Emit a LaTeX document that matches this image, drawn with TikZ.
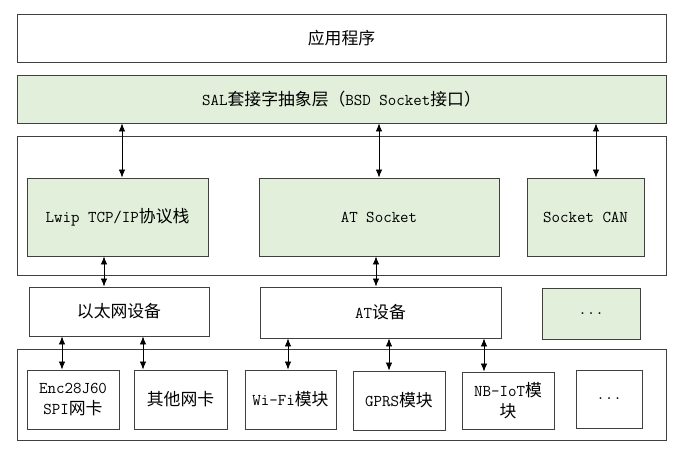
\documentclass[tikz,border=0pt]{standalone}
\usepackage{fontspec}
\newfontfamily\zhfont{Noto Sans CJK SC}[Scale=1.02]
\newcommand{\zh}[1]{{\zhfont #1}}
\usetikzlibrary{arrows.meta,positioning}
\definecolor{salgreen}{HTML}{E2EFDA}
\definecolor{boxline}{HTML}{404040}

\begin{document}
\begin{tikzpicture}[
    x=1pt, y=-1pt,
    font=\ttfamily\fontsize{16.5}{21}\selectfont,
    box/.style={draw=boxline, line width=0.9pt, inner sep=0, align=center},
    layer/.style={box, minimum width=649pt},
    greenbox/.style={box, fill=salgreen},
    dbl/.style={{Latex[length=8pt,width=6.5pt]}-{Latex[length=8pt,width=6.5pt]}, line width=0.8pt}]
\useasboundingbox (0,0) rectangle (680,451);

% top layers
\node[layer, minimum height=48pt] (app) at (341.5,38) {\zh{应用程序}};
\node[layer, greenbox, minimum height=48pt] (sal) at (341.5,99) {SAL\zh{套接字抽象层（}BSD Socket\zh{接口）}};

% protocol layer
\node[layer, minimum height=139pt] (mid) at (341.5,205.5) {};
\node[greenbox, minimum width=181pt, minimum height=78pt] (lwip) at (117.5,217) {Lwip TCP/IP\zh{协议栈}};
\node[greenbox, minimum width=240pt, minimum height=78pt] (atsock) at (379,217) {AT Socket};
\node[greenbox, minimum width=117pt, minimum height=78pt] (sockcan) at (585.5,217) {Socket CAN};

% device layer
\node[box, minimum width=180pt, minimum height=49pt] (eth) at (119,311.5) {\zh{以太网设备}};
\node[box, minimum width=241pt, minimum height=51pt] (atdev) at (380.5,312.5) {AT\zh{设备}};
\node[greenbox, minimum width=98pt, minimum height=51pt] (more) at (591,313.5) {...};

% hardware layer
\node[layer, minimum height=91pt] (hw) at (341.5,394.5) {};
\node[box, minimum width=92pt, minimum height=59pt] (enc) at (73,399.5) {Enc28J60\\SPI\zh{网卡}};
\node[box, minimum width=93pt, minimum height=59pt] (nic) at (180.5,399.5) {\zh{其他网卡}};
\node[box, minimum width=91pt, minimum height=59pt] (wifi) at (290.5,399.5) {Wi-Fi\zh{模块}};
\node[box, minimum width=92pt, minimum height=59pt] (gprs) at (399,400.5) {GPRS\zh{模块}};
\node[box, minimum width=92pt, minimum height=57pt] (nbiot) at (508,400.5) {NB-IoT\zh{模}\\\zh{块}};
\node[box, minimum width=66pt, minimum height=58pt] (dots) at (609,399) {...};

% connectors
\draw[dbl] ([xshift=4.5pt]lwip.north |- sal.south) -- ([xshift=4.5pt]lwip.north);
\draw[dbl] (atsock.north |- sal.south) -- (atsock.north);
\draw[dbl] ([xshift=10.5pt]sockcan.north |- sal.south) -- ([xshift=10.5pt]sockcan.north);
\draw[dbl] ([xshift=-13.5pt]lwip.south) -- ([xshift=-13.5pt]lwip.south |- eth.north);
\draw[dbl] ([xshift=-3pt]atsock.south) -- ([xshift=-3pt]atsock.south |- atdev.north);
\draw[dbl] ([xshift=-11pt]enc.north |- eth.south) -- ([xshift=-11pt]enc.north);
\draw[dbl] ([xshift=24pt]eth.south) -- ([xshift=24pt]eth.south |- nic.north);
\draw[dbl] ([xshift=-2.5pt]wifi.north |- atdev.south) -- ([xshift=-2.5pt]wifi.north);
\draw[dbl] ([xshift=-10pt]gprs.north |- atdev.south) -- ([xshift=-10pt]gprs.north);
\draw[dbl] ([xshift=-24pt]nbiot.north |- atdev.south) -- ([xshift=-24pt]nbiot.north);
\end{tikzpicture}
\end{document}
